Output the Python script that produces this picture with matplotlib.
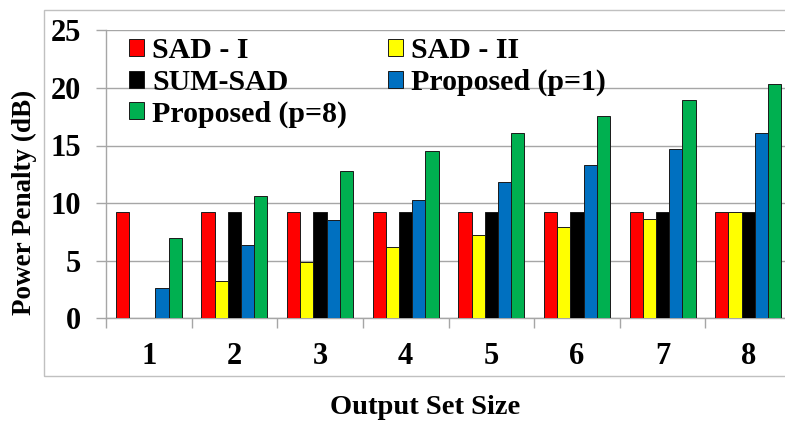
import matplotlib
matplotlib.use("Agg")
import matplotlib.pyplot as plt
import numpy as np
from matplotlib.patches import Rectangle

# Output set sizes and power penalty (dB) for each scheme
set_sizes = ["1", "2", "3", "4", "5", "6", "7", "8"]
sad_i = [9.25, 9.25, 9.25, 9.25, 9.25, 9.25, 9.25, 9.25]
sad_ii = [0.0, 3.2, 4.9, 6.2, 7.2, 7.95, 8.6, 9.25]
sum_sad = [0.0, 9.25, 9.25, 9.25, 9.25, 9.25, 9.25, 9.25]
proposed_p1 = [2.65, 6.35, 8.5, 10.25, 11.85, 13.3, 14.7, 16.1]
proposed_p8 = [6.95, 10.6, 12.75, 14.5, 16.1, 17.55, 18.95, 20.3]

series_labels = ["SAD - I", "SAD - II", "SUM-SAD", "Proposed (p=1)", "Proposed (p=8)"]
series_values = [sad_i, sad_ii, sum_sad, proposed_p1, proposed_p8]
series_colors = ["#ff0000", "#ffff00", "#000000", "#0070c0", "#00b050"]

W, H = 785, 421
fig = plt.figure(figsize=(W / 100, H / 100), dpi=100)
plt.rcParams["font.family"] = ["Liberation Serif", "DejaVu Serif"]
plt.rcParams["font.weight"] = "bold"

grid_color = "#a6a6a6"

# outer chart frame
fig.patches.append(Rectangle((44 / W, 1 - 376 / H), 1.0, (376 - 10) / H,
                             transform=fig.transFigure, fill=False,
                             edgecolor="#c0c0c0", lw=1.0, zorder=0))

ax_left, ax_right = 106, 791
ax_top, ax_bottom = 30.3, 318.3
ax = fig.add_axes([ax_left / W, 1 - ax_bottom / H,
                   (ax_right - ax_left) / W, (ax_bottom - ax_top) / H])

x = np.arange(1, len(set_sizes) + 1)
bar_w = 0.154
for i, (lab, vals, col) in enumerate(zip(series_labels, series_values, series_colors)):
    ax.bar(x + (i - 2) * bar_w, vals, width=bar_w, color=col,
           edgecolor="#1a1a1a", linewidth=0.7, label=lab, zorder=3)

ax.set_xlim(0.5, len(set_sizes) + 0.5)
ax.set_ylim(0, 25)
ax.set_yticks([0, 5, 10, 15, 20, 25])
ax.yaxis.grid(True, color=grid_color, lw=1.0, zorder=0)
ax.set_axisbelow(True)

ax.set_xticks(x)
ax.set_xticklabels(set_sizes)
ax.set_xticks(np.arange(0.5, len(set_sizes) + 1, 1.0), minor=True)
ax.tick_params(axis="x", which="major", length=0, pad=17, labelsize=22)
ax.tick_params(axis="x", which="minor", length=7, color=grid_color, width=1.0)
ax.tick_params(axis="y", which="major", length=7, color=grid_color, width=1.0,
               pad=11, labelsize=22)
for t in ax.get_xticklabels() + ax.get_yticklabels():
    t.set_fontweight("bold")

for s in ["top", "right"]:
    ax.spines[s].set_visible(False)
for s in ["left", "bottom"]:
    ax.spines[s].set_color(grid_color)
    ax.spines[s].set_linewidth(1.0)

# legend, filled row by row across two columns
handles, labels = ax.get_legend_handles_labels()
order = [0, 2, 4, 1, 3]
leg = ax.legend([handles[k] for k in order], [labels[k] for k in order],
                ncol=2, loc="upper left",
                bbox_to_anchor=(129 / W, 1 - 37 / H), bbox_transform=fig.transFigure,
                frameon=False, borderpad=0, borderaxespad=0,
                handlelength=0.5, handleheight=0.5, handletextpad=0.28,
                columnspacing=1.35, labelspacing=0.16,
                prop={"family": "Liberation Serif", "weight": "bold", "size": 21.5})

fig.text(425 / W, 1 - 408 / H, "Output Set Size", ha="center", va="center",
         fontsize=20.5, fontweight="bold")
fig.text(24 / W, 1 - 202.5 / H, "Power Penalty (dB)", ha="center", va="center",
         rotation=90, fontsize=19.5, fontweight="bold")

fig.savefig("out.png", dpi=100)
